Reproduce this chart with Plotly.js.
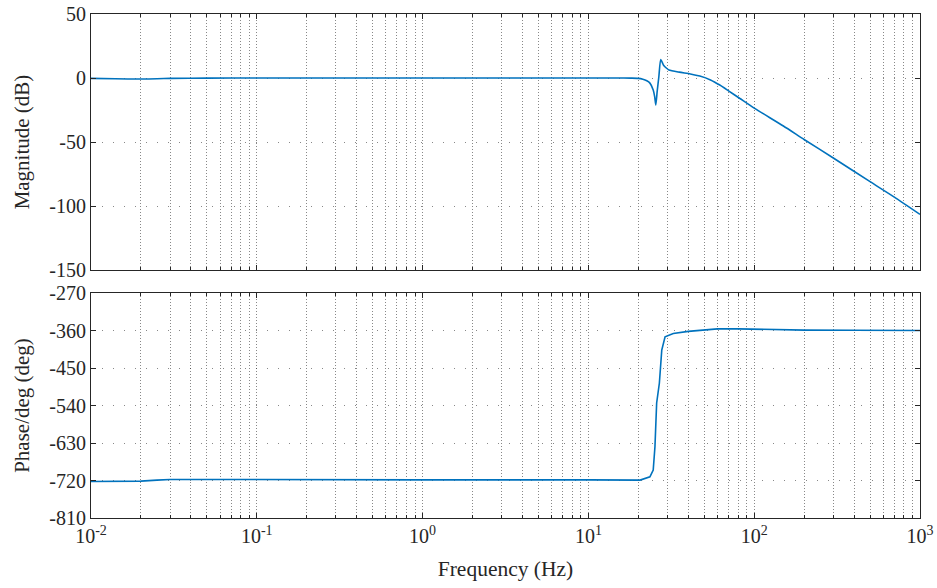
<!DOCTYPE html>
<html>
<head>
<meta charset="utf-8">
<script src="https://cdn.plot.ly/plotly-3.0.1.min.js"></script>
<style>
  html, body { margin: 0; padding: 0; background: #ffffff; }
  #chart { width: 937px; height: 588px; }
</style>
</head>
<body>
<div id="chart"></div>
<script>
// ---- data ----
const freqMag = [0.01, 0.014, 0.02, 0.025, 0.03, 0.05, 0.1, 1, 10, 15, 18, 20, 21.3, 22.5, 23.5, 24.6, 25.1, 25.5, 26, 26.6, 27.3, 28.4, 29.5, 30.6, 35.3, 41.2, 47, 54.5, 62, 70, 82, 100, 150, 200, 300, 500, 700, 1000];
const magDb   = [-0.3, -0.6, -0.8, -0.6, -0.3, -0.1, 0, 0, 0, 0, -0.1, -0.3, -1, -2.2, -4, -9.4, -14.6, -21, -10.3, 1, 14.5, 10, 7.8, 6.3, 4.6, 3.2, 1.5, -1.5, -5.5, -10, -16, -23.5, -37.5, -48, -62.5, -81, -93, -106.5];

const freqPhase = [0.01, 0.015, 0.02, 0.025, 0.03, 0.05, 0.1, 1, 10, 18, 20.5, 23.5, 24.6, 25.2, 25.5, 25.8, 26.8, 27.7, 29, 32.5, 40, 47, 60, 80, 120, 200, 400, 1000];
const phaseDeg  = [-722.5, -722.5, -721.5, -719, -717.5, -717.5, -718, -718.5, -718.5, -719, -719, -711, -695, -639, -551, -534, -486, -407, -375, -367, -362, -360, -356, -356, -357.5, -359, -359.5, -360];

const xTickVals = [0.01, 0.1, 1, 10, 100, 1000];
const xTickText = ['10<sup>-2</sup>', '10<sup>-1</sup>', '10<sup>0</sup>', '10<sup>1</sup>', '10<sup>2</sup>', '10<sup>3</sup>'];
const magTickVals = [-150, -100, -50, 0, 50];
const magTickText = ['-150', '-100', '-50', '0', '50'];
const phaseTickVals = [-810, -720, -630, -540, -450, -360, -270];
const phaseTickText = ['-810', '-720', '-630', '-540', '-450', '-360', '-270'];

// minor tick positions (2..9 per decade)
const minorVals = [];
for (let e = -2; e < 3; e++) {
  for (let m = 2; m <= 9; m++) minorVals.push(m * Math.pow(10, e));
}

const lineColor = '#0072BD';
const axisColor = '#262626';
const fontFam = 'Liberation Serif, Times New Roman, serif';

const traces = [
  { x: freqMag, y: magDb, xaxis: 'x', yaxis: 'y', type: 'scatter', mode: 'lines',
    line: { color: lineColor, width: 1.6, shape: 'spline', smoothing: 0.6 }, hoverinfo: 'skip' },
  { x: freqPhase, y: phaseDeg, xaxis: 'x2', yaxis: 'y2', type: 'scatter', mode: 'lines',
    line: { color: lineColor, width: 1.6 }, hoverinfo: 'skip' }
];

function xAxis(showLabels, anchor, withTitle) {
  const ax = {
    type: 'log', range: [-2, 3], anchor: anchor,
    tickmode: 'array', tickvals: xTickVals, ticktext: xTickText,
    showticklabels: showLabels,
    ticks: 'inside', ticklen: 5, tickwidth: 1, tickcolor: axisColor,
    showline: true, linecolor: axisColor, linewidth: 1, mirror: 'ticks',
    showgrid: true, gridcolor: 'rgba(38,38,38,0.55)', gridwidth: 1, griddash: '1px,2px',
    zeroline: false,
    tickfont: { family: fontFam, size: 20, color: '#262626' },
    minor: { tickmode: 'array', tickvals: minorVals, ticks: 'inside', ticklen: 3,
             tickcolor: axisColor, showgrid: true, gridcolor: 'rgba(38,38,38,0.55)',
             gridwidth: 1, griddash: '1px,2px' }
  };
  if (withTitle) {
    ax.title = { text: 'Frequency (Hz)', font: { family: fontFam, size: 21.5, color: '#262626' }, standoff: 14 };
  }
  return ax;
}

function yAxis(range, vals, text, title, domain, anchor) {
  return {
    range: range, domain: domain, anchor: anchor,
    tickmode: 'array', tickvals: vals, ticktext: text,
    ticks: 'inside', ticklen: 5, tickwidth: 1, tickcolor: axisColor,
    showline: true, linecolor: axisColor, linewidth: 1, mirror: 'ticks',
    showgrid: true, gridcolor: 'rgba(38,38,38,0.55)', gridwidth: 1, griddash: '1px,10px',
    zeroline: false,
    tickfont: { family: fontFam, size: 20, color: '#262626' },
    title: { text: title, font: { family: fontFam, size: 21, color: '#262626' }, standoff: 13 }
  };
}

const layout = {
  width: 937, height: 588,
  margin: { l: 91, r: 17, t: 14, b: 70 },
  paper_bgcolor: '#ffffff', plot_bgcolor: '#ffffff',
  showlegend: false,
  font: { family: fontFam, color: '#262626' },
  xaxis: Object.assign(xAxis(false, 'y', false), { domain: [0, 1] }),
  yaxis: yAxis([-150, 50], magTickVals, magTickText, 'Magnitude (dB)', [0.492, 1], 'x'),
  xaxis2: Object.assign(xAxis(true, 'y2', true), { domain: [0, 1] }),
  yaxis2: yAxis([-810, -270], phaseTickVals, phaseTickText, 'Phase/deg (deg)', [0, 0.4464], 'x2')
};

Plotly.newPlot('chart', traces, layout, { staticPlot: true, displayModeBar: false });
</script>
</body>
</html>
